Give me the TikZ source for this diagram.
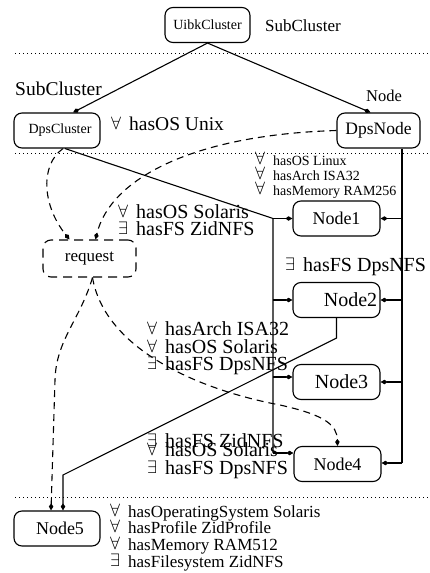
\documentclass[tikz,border=0pt]{standalone}
\usepackage{fontspec}
\setmainfont{Liberation Serif}
\usepackage{graphicx}
\usetikzlibrary{arrows.meta}
\newcommand\fsz[1]{\fontsize{#1}{#1}\selectfont}
% quantifier prefix of a property line (fixed symbol size)
\newcommand\qsym[1]{\makebox[18pt][l]{\raisebox{1pt}{\fontsize{10}{10}\selectfont\scalebox{1.8}{$#1$}}}}
\newcommand\qall{\qsym{\forall}}
\newcommand\qex{\qsym{\exists}}
\begin{document}
\begin{tikzpicture}[x=1pt,y=-1pt,
  box/.style={draw,rounded corners=8pt,line width=1.1pt,inner sep=0pt,minimum height=35pt},
  nbox/.style={box,minimum width=87pt,font=\fsz{18}},
  lbl/.style={anchor=base west,inner sep=0pt},
  link/.style={line width=1.1pt,-{Kite[length=7pt,width=4.5pt,inset=3pt]}},
  hint/.style={link,dash pattern=on 7pt off 5pt},
  sep/.style={line width=1pt,dash pattern=on 1pt off 3pt}]
\useasboundingbox (0,0) rectangle (429,573);

% level separators
\draw[sep] (15,53) -- (429,53);
\draw[sep] (15,153) -- (429,153);
\draw[sep] (15,497) -- (429,497);

% resources
\node[box,minimum width=85pt,font=\fsz{14}] (uibk) at (207.5,25) {UibkCluster};
\node[box,minimum width=86pt,font=\fsz{14}] (dpsc) at (57,130.5) {\hspace*{6pt}DpsCluster};
\node[box,minimum width=83pt,font=\fsz{17.5}] (dpsn) at (378.5,130.5) {DpsNode};
\node[nbox] (n1) at (336.5,218.5) {Node1};
\node[nbox,font=\fsz{20}] (n2) at (336.5,300) {\hspace*{28pt}Node2};
\node[nbox,font=\fsz{20}] (n3) at (336.5,382) {\hspace*{10pt}Node3};
\node[nbox] (n4) at (337.5,464) {Node4};
\node[nbox,minimum width=86pt] (n5) at (57,528.5) {\hspace*{6pt}Node5};
\node[box,dash pattern=on 9pt off 6pt,minimum width=93pt,minimum height=37pt,font=\fsz{17}] (req) at (89.5,258.5) {request};

% type labels
\node[lbl,font=\fsz{17}] (t1) at (265,31) {SubCluster};
\node[lbl,font=\fsz{19.5}] (t2) at (15,95) {SubCluster};
\node[lbl,font=\fsz{16.5}] (t3) at (366,101) {Node};

% property annotations
\node[lbl,font=\fsz{19.5}] (p0) at (111,130) {\qall hasOS Unix};
\node[lbl,font=\fsz{14}] (p1) at (255,165) {\qall hasOS Linux};
\node[lbl,font=\fsz{14}] (p2) at (255,180) {\qall hasArch ISA32};
\node[lbl,font=\fsz{14}] (p3) at (255,195) {\qall hasMemory RAM256};
\node[lbl,font=\fsz{20}] (p4) at (118,218) {\qall hasOS Solaris};
\node[lbl,font=\fsz{20}] (p5) at (118,235) {\qex hasFS ZidNFS};
\node[lbl,font=\fsz{20}] (p6) at (285,271) {\qex hasFS DpsNFS};
\node[lbl,font=\fsz{20}] (p7) at (147,335) {\qall hasArch ISA32};
\node[lbl,font=\fsz{20}] (p8) at (147,353) {\qall hasOS Solaris};
\node[lbl,font=\fsz{20}] (p9) at (147,370) {\qex hasFS DpsNFS};
\node[lbl,font=\fsz{20}] (p10) at (147,447) {\qex hasFS ZidNFS};
\node[lbl,font=\fsz{20}] (p11) at (147,456) {\qall hasOS Solaris};
\node[lbl,font=\fsz{20}] (p12) at (147,474) {\qex hasFS DpsNFS};
\node[lbl,font=\fsz{17}] (p13) at (110,517) {\qall hasOperatingSystem Solaris};
\node[lbl,font=\fsz{17}] (p14) at (110,533) {\qall hasProfile ZidProfile};
\node[lbl,font=\fsz{17}] (p15) at (110,550) {\qall hasMemory RAM512};
\node[lbl,font=\fsz{17}] (p16) at (110,567) {\qex hasFilesystem ZidNFS};

% cluster hierarchy
\draw[link] (uibk.south) -- ([xshift=16pt]dpsc.north);
\draw[link] (uibk.south) -- ([xshift=-8pt]dpsn.north);

% DpsCluster bus
\coordinate (l1) at (273,218.5);
\coordinate (l2) at (273,300);
\coordinate (l3) at (273,377);
\coordinate (l4) at (273,453);
\draw[line width=1.1pt] ([xshift=8pt]dpsc.south) -- (l1) -- (l4);
\draw[link] (l1) -- (l1 -| n1.west);
\draw[link] (l2) -- (l2 -| n2.west);
\draw[link] (l3) -- (l3 -| n3.west);
\draw[link] (l4) -- (l4 -| n4.west);

% DpsNode bus
\coordinate (r1) at (402,218.5);
\coordinate (r2) at (402,300);
\coordinate (r3) at (402,382);
\coordinate (r4) at (402,463);
\draw[line width=1.1pt] (r1 |- dpsn.south) -- (r4);
\draw[link] (r1) -- (r1 -| n1.east);
\draw[link] (r2) -- (r2 -| n2.east);
\draw[link] (r3) -- (r3 -| n3.east);
\draw[link] (r4) -- (r4 -| n4.east);

% Node2 to Node5
\coordinate (k1) at (63,475);
\draw[link] (n2.south) -- ++(0,20) -- (k1) -- (k1 |- n5.north);

% request matching
\draw[hint] ([xshift=6pt]dpsc.south) .. controls (40,165) and (42,205) .. ([xshift=-20pt]req.north);
\draw[hint] (dpsn.west) .. controls (190,135) and (110,180) .. ([xshift=6pt]req.north);
\draw[hint] ([xshift=3pt]req.south) .. controls (80,320) and (56,340) .. (55,380) -- ([xshift=-6pt]n5.north);
\draw[hint] ([xshift=3pt]req.south) .. controls (105,350) and (200,390) .. (280,405) .. controls (325,415) and (337,425) .. (n4.north);
\end{tikzpicture}
\end{document}
